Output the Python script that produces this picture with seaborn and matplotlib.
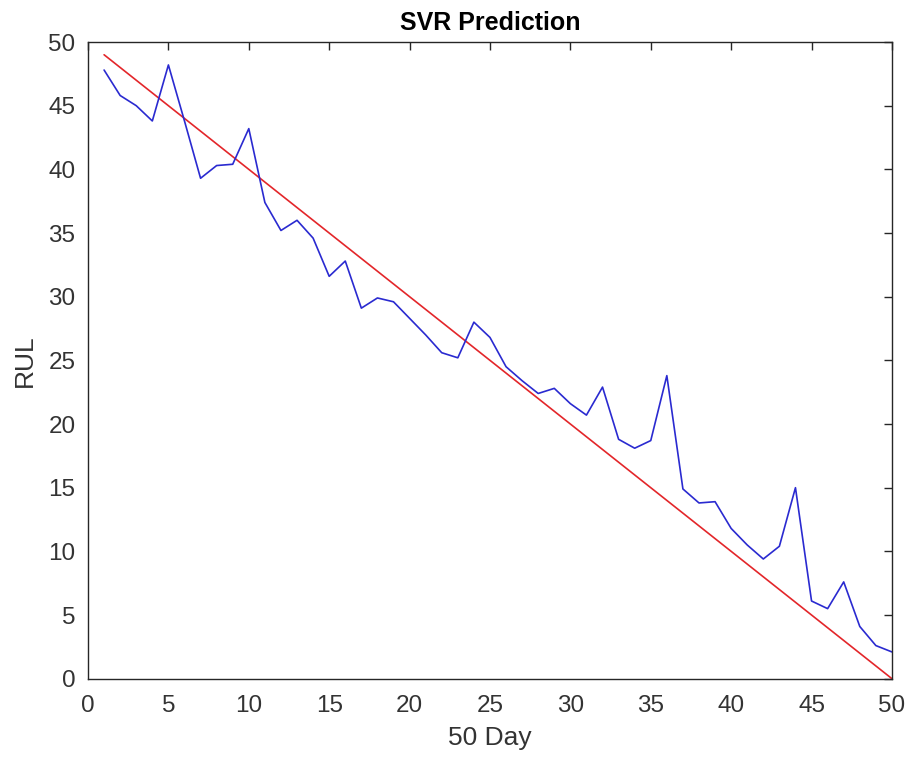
import matplotlib
matplotlib.use("Agg")
import matplotlib.pyplot as plt
import seaborn as sns
import numpy as np
import pandas as pd

days = list(range(1, 51))
predicted = [47.8, 45.8, 45.0, 43.8, 48.2, 43.8, 39.3, 40.3, 40.4, 43.2,
             37.4, 35.2, 36.0, 34.6, 31.6, 32.8, 29.1, 29.9, 29.6, 28.3,
             27.0, 25.6, 25.2, 28.0, 26.8, 24.5, 23.4, 22.4, 22.8, 21.6,
             20.7, 22.9, 18.8, 18.1, 18.7, 23.8, 14.9, 13.8, 13.9, 11.8,
             10.5, 9.4, 10.4, 15.0, 6.1, 5.5, 7.6, 4.1, 2.6, 2.1]
actual = [49, 48, 47, 46, 45, 44, 43, 42, 41, 40,
          39, 38, 37, 36, 35, 34, 33, 32, 31, 30,
          29, 28, 27, 26, 25, 24, 23, 22, 21, 20,
          19, 18, 17, 16, 15, 14, 13, 12, 11, 10,
          9, 8, 7, 6, 5, 4, 3, 2, 1, 0]
xticks = [0, 5, 10, 15, 20, 25, 30, 35, 40, 45, 50]
yticks = [0, 5, 10, 15, 20, 25, 30, 35, 40, 45, 50]

sns.set_style("white")
plt.rcParams['font.family'] = ['Liberation Sans', 'DejaVu Sans']

df = pd.DataFrame({"day": days, "pred": predicted, "actual": actual})

fig = plt.figure(figsize=(9.12, 7.6), dpi=100)
ax = fig.add_axes([0.0965, 0.107, 0.8815, 0.8377])

sns.lineplot(data=df, x="day", y="actual", ax=ax, color="#e3262a", linewidth=1.2)
sns.lineplot(data=df, x="day", y="pred", ax=ax, color="#2a2ad0", linewidth=1.2)

ax.set_xlim(0, 50)
ax.set_ylim(0, 50)
ax.set_xticks(xticks)
ax.set_yticks(yticks)
ax.tick_params(direction="in", length=6, width=1, color="#262626", labelcolor="#333333",
               labelsize=17.5, top=True, right=True, labeltop=False, labelright=False)
ax.tick_params(axis="x", pad=12)
ax.tick_params(axis="y", pad=9)
for sp in ax.spines.values():
    sp.set_color("#262626")
    sp.set_linewidth(1)
ax.set_xlabel("50 Day", fontsize=19, color="#333333", labelpad=6)
ax.set_ylabel("RUL", fontsize=19, color="#333333", labelpad=8)
ax.set_title("SVR Prediction", fontsize=18, fontweight="bold", color="black", pad=9)

fig.savefig("out.png", dpi=100)
